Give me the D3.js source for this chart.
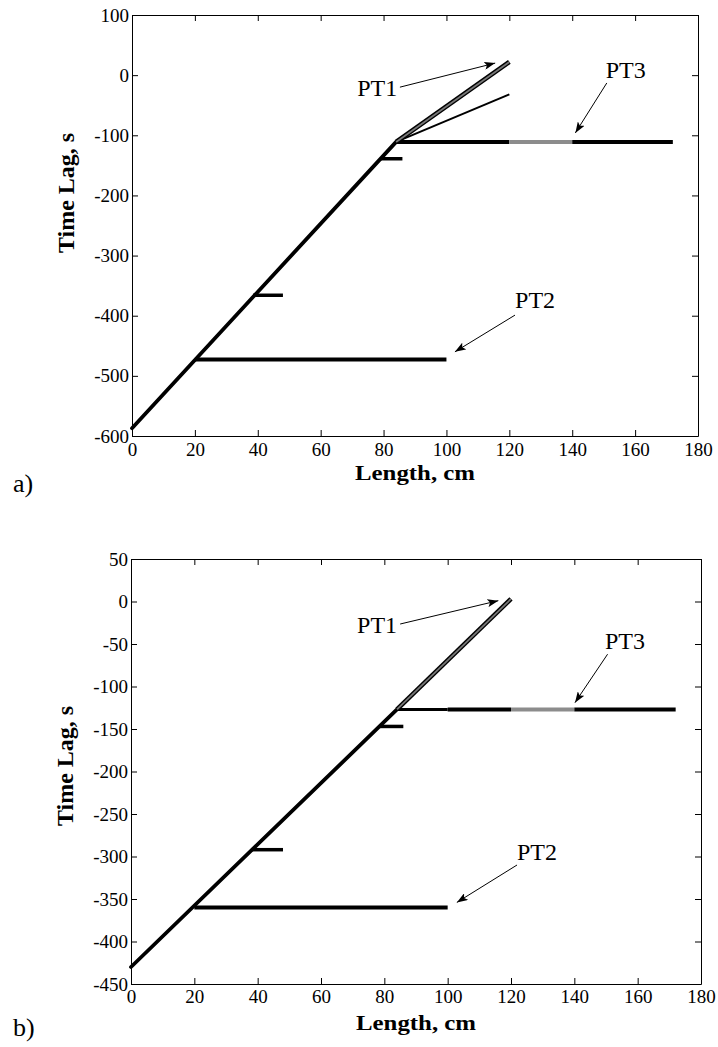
<!DOCTYPE html>
<html>
<head>
<meta charset="utf-8">
<script src="https://cdn.jsdelivr.net/npm/d3@7"></script>
<style>
  body { margin: 0; background: #fff; }
  svg { display: block; font-family: "Liberation Serif", "Times New Roman", serif; }
  .axis path, .axis line { stroke: #000; stroke-width: 1; }
  .axis text { fill: #000; }
  .title { font-weight: bold; font-size: 21px; }
  .pt { font-size: 24px; }
  .tag { font-size: 26px; }
</style>
</head>
<body>
<svg width="718" height="1047"></svg>
<script>
// shared x ticks (length along the column, cm)
const lengthTicks = [0, 20, 40, 60, 80, 100, 120, 140, 160, 180];

// ---- panel a ----
const lagTicksA = [100, 0, -100, -200, -300, -400, -500, -600];
const mainA = [[0, -587], [84, -111]];
const pt1UpperA = [[84, -111], [120, 22]];
const pt1LowerA = [[84, -111], [120, -32]];
const pt2A = [[20, -473], [100, -473]];
const pt3A = [[84, -111], [120, -111], [140, -111], [172, -111]];
const stepsA = [[38.5, 48, -366], [79, 86, -139]];   // [x0, x1, lag]
const notesA = [
  { label: 'PT1', at: [78, -35], tail: [85.2, -20], head: [115.5, 20] },
  { label: 'PT3', at: [157, -5], tail: [151, -13], head: [141, -96] },
  { label: 'PT2', at: [128.2, -387], tail: [121.8, -399], head: [102.7, -460] }
];

// ---- panel b ----
const lagTicksB = [50, 0, -50, -100, -150, -200, -250, -300, -350, -400, -450];
const mainB = [[0, -430], [84, -127]];
const pt1UpperB = [[84, -127], [120, 3]];
const pt2B = [[20, -360], [100, -360]];
const pt3B = [[84, -127], [100, -127], [120, -127], [140, -127], [172, -127]];
const stepsB = [[38, 48, -292], [78.6, 86, -147]];
const notesB = [
  { label: 'PT1', at: [77.7, -37], tail: [85, -26.5], head: [116, 1] },
  { label: 'PT3', at: [156, -56], tail: [150.5, -62], head: [140.2, -119] },
  { label: 'PT2', at: [128.2, -304], tail: [121.9, -310], head: [102.9, -354] }
];

const SERIF = '"Liberation Serif", "Times New Roman", serif';
const svg = d3.select('svg');

// arrow head used by the PT callouts
svg.append('defs').append('marker')
    .attr('id', 'arrow')
    .attr('markerUnits', 'userSpaceOnUse')
    .attr('markerWidth', 12)
    .attr('markerHeight', 8)
    .attr('refX', 11)
    .attr('refY', 4)
    .attr('orient', 'auto')
  .append('path')
    .attr('d', 'M0,0 L11,4 L0,8 L2.5,4 Z')
    .attr('fill', '#000');

const panel = (cfg) => {
  const x = d3.scaleLinear().domain([0, 180]).range([cfg.left, cfg.right]);
  const y = d3.scaleLinear().domain(cfg.yDomain).range([cfg.bottom, cfg.top]);
  const g = svg.append('g');
  const plain = d => String(d);
  const serifAxis = sel => sel.attr('font-family', SERIF).attr('font-size', 19);

  g.append('g').attr('class', 'axis')
    .attr('transform', `translate(0,${cfg.bottom})`)
    .call(d3.axisBottom(x).tickValues(lengthTicks).tickSize(-6).tickSizeOuter(0)
      .tickPadding(cfg.xPad).tickFormat(plain))
    .call(serifAxis);
  g.append('g').attr('class', 'axis')
    .attr('transform', `translate(0,${cfg.top})`)
    .call(d3.axisTop(x).tickValues(lengthTicks).tickSize(-6).tickSizeOuter(0).tickFormat(''));
  g.append('g').attr('class', 'axis')
    .attr('transform', `translate(${cfg.left},0)`)
    .call(d3.axisLeft(y).tickValues(cfg.yTicks).tickSize(-6).tickSizeOuter(0)
      .tickPadding(3).tickFormat(plain))
    .call(serifAxis);
  g.append('g').attr('class', 'axis')
    .attr('transform', `translate(${cfg.right},0)`)
    .call(d3.axisRight(y).tickValues(cfg.yTicks).tickSize(-6).tickSizeOuter(0).tickFormat(''));

  // axis titles
  g.append('text').attr('class', 'title')
    .attr('x', (cfg.left + cfg.right) / 2).attr('y', cfg.xTitleY)
    .attr('text-anchor', 'middle')
    .attr('textLength', 120).attr('lengthAdjust', 'spacingAndGlyphs')
    .text('Length, cm');
  g.append('text').attr('class', 'title')
    .attr('transform', `translate(${cfg.yTitleX},${cfg.yTitleY}) rotate(-90)`)
    .attr('text-anchor', 'middle')
    .attr('textLength', 120).attr('lengthAdjust', 'spacingAndGlyphs')
    .style('font-size', '23px')
    .text('Time Lag, s');
  g.append('text').attr('class', 'tag')
    .attr('x', 13).attr('y', cfg.tagY)
    .text(cfg.tag);

  const line = d3.line().x(d => x(d[0])).y(d => y(d[1]));
  const marks = g.append('g').attr('fill', 'none');

  // PT2 step
  marks.append('path').attr('d', line(cfg.pt2))
    .attr('stroke', '#000').attr('stroke-width', 4);

  // PT3 step, middle stretch printed grey
  d3.pairs(cfg.pt3).forEach(([a, b], i, all) => {
    const grey = b[0] > 120 && a[0] < 140;
    marks.append('path').attr('d', line([a, b]))
      .attr('stroke', grey ? '#8c8c8c' : '#000')
      .attr('stroke-width', (i === 0 && all.length > 3) ? 3 : 4);
  });

  // short steps off the rising line
  marks.selectAll('.step').data(cfg.steps).enter().append('path')
    .attr('class', 'step')
    .attr('d', d => line([[d[0], d[2]], [d[1], d[2]]]))
    .attr('stroke', '#000').attr('stroke-width', 3.5);

  // rising line
  marks.append('path').attr('d', line(cfg.main))
    .attr('stroke', '#000').attr('stroke-width', 3.8)
    .attr('stroke-linecap', 'round');

  if (cfg.pt1Lower) {
    marks.append('path').attr('d', line(cfg.pt1Lower))
      .attr('stroke', '#000').attr('stroke-width', 2);
  }

  // PT1 branch: dark edges with a greyer core
  marks.append('path').attr('d', line(cfg.pt1Upper))
    .attr('stroke', '#000').attr('stroke-width', 4.6);
  marks.append('path').attr('d', line(cfg.pt1Upper))
    .attr('stroke', '#777').attr('stroke-width', 1.8);

  // callouts
  const notes = g.selectAll('.note').data(cfg.notes).enter().append('g').attr('class', 'note');
  notes.append('text').attr('class', 'pt')
    .attr('x', d => x(d.at[0])).attr('y', d => y(d.at[1]))
    .attr('text-anchor', 'middle')
    .text(d => d.label);
  notes.append('line')
    .attr('x1', d => x(d.tail[0])).attr('y1', d => y(d.tail[1]))
    .attr('x2', d => x(d.head[0])).attr('y2', d => y(d.head[1]))
    .attr('stroke', '#000').attr('stroke-width', 1)
    .attr('marker-end', 'url(#arrow)');
};

panel({
  left: 132, right: 698, top: 15, bottom: 436,
  yDomain: [-600, 100], yTicks: lagTicksA,
  xPad: 7, xTitleY: 480, yTitleX: 74, yTitleY: 193, tag: 'a)', tagY: 492,
  main: mainA, pt1Upper: pt1UpperA, pt1Lower: pt1LowerA,
  pt2: pt2A, pt3: pt3A, steps: stepsA, notes: notesA
});

panel({
  left: 131, right: 701, top: 559, bottom: 984,
  yDomain: [-450, 50], yTicks: lagTicksB,
  xPad: 6, xTitleY: 1030, yTitleX: 73, yTitleY: 766, tag: 'b)', tagY: 1036,
  main: mainB, pt1Upper: pt1UpperB, pt1Lower: null,
  pt2: pt2B, pt3: pt3B, steps: stepsB, notes: notesB
});
</script>
</body>
</html>
